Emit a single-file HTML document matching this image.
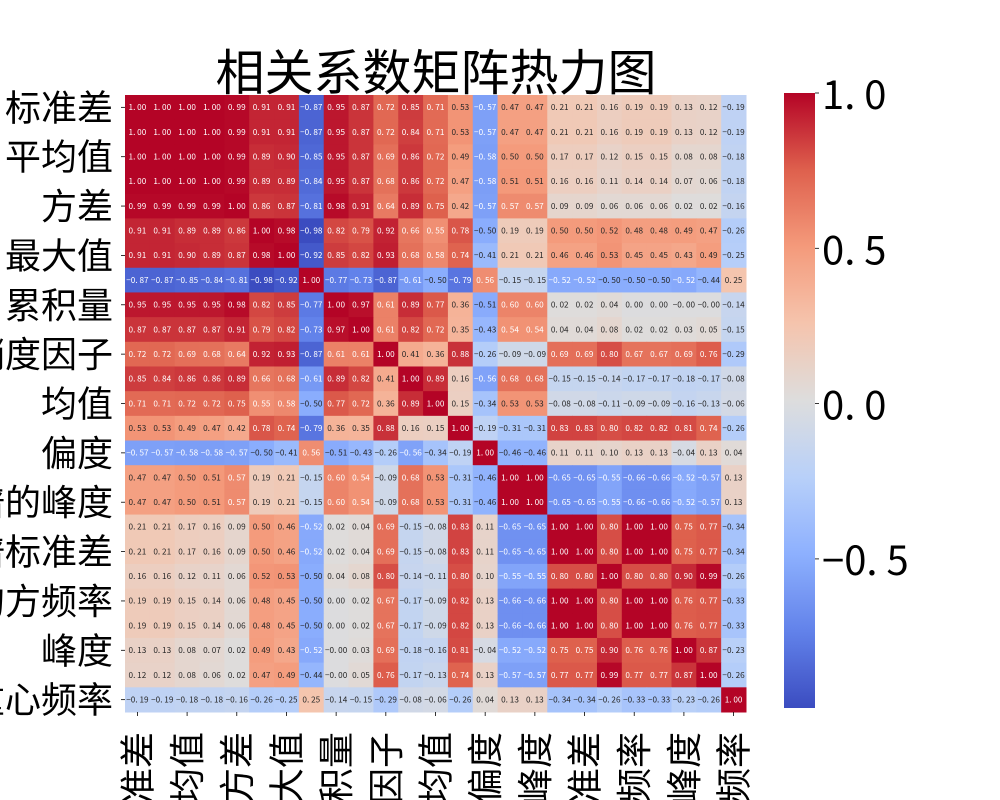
<!DOCTYPE html>
<html><head><meta charset="utf-8">
<style>
html,body{margin:0;padding:0;background:#fff;width:1000px;height:800px;overflow:hidden}
svg{display:block;overflow:hidden}
</style></head>
<body>
<svg id="chart" width="1000" height="800" viewBox="0 0 1000 800" xmlns="http://www.w3.org/2000/svg">
<text x="436" y="90" text-anchor="middle" font-size="49" font-family="'Liberation Sans','Noto Sans CJK SC',sans-serif" fill="#000">相关系数矩阵热力图</text>
<g id="cells"></g>
<g id="ylab"></g>
<g id="xlab"></g>
<g id="cbar"></g>
</svg>
<script>
const labels = ["标准差","均方根","平均值","绝对平均值","方差","峰峰值","最大值","最小值","累积量","能量","峭度因子","波形因子","均值","脉冲因子","偏度","裕度因子","频谱的峰度","频率标准差","频谱标准差","均方根频率","均方频率","平均频率","峰度","频谱偏度","重心频率"];
// upper triangle rows (row i starts at column i)
const upperRows = [
[1.00,1.00,1.00,1.00,0.99,0.91,0.91,-0.87,0.95,0.87,0.72,0.85,0.71,0.53,-0.57,0.47,0.47,0.21,0.21,0.16,0.19,0.19,0.13,0.12,-0.19],
[1.00,1.00,1.00,0.99,0.91,0.91,-0.87,0.95,0.87,0.72,0.84,0.71,0.53,-0.57,0.47,0.47,0.21,0.21,0.16,0.19,0.19,0.13,0.12,-0.19],
[1.00,1.00,0.99,0.89,0.90,-0.85,0.95,0.87,0.69,0.86,0.72,0.49,-0.58,0.50,0.50,0.17,0.17,0.12,0.15,0.15,0.08,0.08,-0.18],
[1.00,0.99,0.89,0.89,-0.84,0.95,0.87,0.68,0.86,0.72,0.47,-0.58,0.51,0.51,0.16,0.16,0.11,0.14,0.14,0.07,0.06,-0.18],
[1.00,0.86,0.87,-0.81,0.98,0.91,0.64,0.89,0.75,0.42,-0.57,0.57,0.57,0.09,0.09,0.06,0.06,0.06,0.02,0.02,-0.16],
[1.00,0.98,-0.98,0.82,0.79,0.92,0.66,0.55,0.78,-0.50,0.19,0.19,0.50,0.50,0.52,0.48,0.48,0.49,0.47,-0.26],
[1.00,-0.92,0.85,0.82,0.93,0.68,0.58,0.74,-0.41,0.21,0.21,0.46,0.46,0.53,0.45,0.45,0.43,0.49,-0.25],
[1.00,-0.77,-0.73,-0.87,-0.61,-0.50,-0.79,0.56,-0.15,-0.15,-0.52,-0.52,-0.50,-0.50,-0.50,-0.52,-0.44,0.25],
[1.00,0.97,0.61,0.89,0.77,0.36,-0.51,0.60,0.60,0.02,0.02,0.04,0.00,0.00,-0.00,-0.00,-0.14],
[1.00,0.61,0.82,0.72,0.35,-0.43,0.54,0.54,0.04,0.04,0.08,0.02,0.02,0.03,0.05,-0.15],
[1.00,0.41,0.36,0.88,-0.26,-0.09,-0.09,0.69,0.69,0.80,0.67,0.67,0.69,0.76,-0.29],
[1.00,0.89,0.16,-0.56,0.68,0.68,-0.15,-0.15,-0.14,-0.17,-0.17,-0.18,-0.17,-0.08],
[1.00,0.15,-0.34,0.53,0.53,-0.08,-0.08,-0.11,-0.09,-0.09,-0.16,-0.13,-0.06],
[1.00,-0.19,-0.31,-0.31,0.83,0.83,0.80,0.82,0.82,0.81,0.74,-0.26],
[1.00,-0.46,-0.46,0.11,0.11,0.10,0.13,0.13,-0.04,0.13,0.04],
[1.00,1.00,-0.65,-0.65,-0.55,-0.66,-0.66,-0.52,-0.57,0.13],
[1.00,-0.65,-0.65,-0.55,-0.66,-0.66,-0.52,-0.57,0.13],
[1.00,1.00,0.80,1.00,1.00,0.75,0.77,-0.34],
[1.00,0.80,1.00,1.00,0.75,0.77,-0.34],
[1.00,0.80,0.80,0.90,0.99,-0.26],
[1.00,1.00,0.76,0.77,-0.33],
[1.00,0.76,0.77,-0.33],
[1.00,0.87,-0.23],
[1.00,-0.26],
[1.00]
];
const cbarTicks = [1.0, 0.5, 0.0, -0.5];
const cbarTickLabels = ["1.0","0.5","0.0","\u22120.5"];

const NS = "http://www.w3.org/2000/svg";
const n = labels.length;
const X0 = 125, X1 = 746, Y0 = 95, Y1 = 712;
const cw = (X1 - X0) / n, ch = (Y1 - Y0) / n;
const vmin = -0.98, vmax = 1.0;
const xPos = i => X0 + i * cw;
const yPos = i => Y0 + i * ch;

const M = [];
for (let i = 0; i < n; i++) { M.push(new Array(n)); }
for (let i = 0; i < n; i++) for (let k = 0; k < upperRows[i].length; k++) {
  const j = i + k; M[i][j] = upperRows[i][k]; M[j][i] = upperRows[i][k];
}
const stops = [[0,[59,76,192]],[0.125,[98,130,234]],[0.25,[141,176,254]],[0.375,[184,208,249]],[0.5,[221,221,221]],[0.625,[245,196,173]],[0.75,[244,154,123]],[0.875,[222,96,77]],[1,[180,4,38]]];
function cmap(t){
  t = Math.max(0, Math.min(1, t));
  for (let s = 0; s < stops.length - 1; s++) {
    const [a, ca] = stops[s], [b, cb] = stops[s+1];
    if (t <= b) { const f = (t - a) / (b - a); return ca.map((c, k) => Math.round(c + (cb[k] - c) * f)); }
  }
  return stops[stops.length-1][1];
}
const norm = v => (v - vmin) / (vmax - vmin);
function lum(c){ const l = c.map(x => { x/=255; return x <= 0.03928 ? x/12.92 : Math.pow((x+0.055)/1.055, 2.4); }); return 0.2126*l[0]+0.7152*l[1]+0.0722*l[2]; }
function fmt(v){ let s = Math.abs(v).toFixed(2); if (v < 0 || Object.is(v,-0)) s = "\u2212" + s; return s; }

const cells = document.getElementById("cells");
for (let i = 0; i < n; i++) for (let j = 0; j < n; j++) {
  const v = M[i][j], c = cmap(norm(v));
  const r = document.createElementNS(NS, "rect");
  
  
  r.setAttribute("x", xPos(j)); r.setAttribute("y", yPos(i));
  r.setAttribute("width", cw + 0.5); r.setAttribute("height", ch + 0.5);
  r.setAttribute("fill", `rgb(${c[0]},${c[1]},${c[2]})`);
  cells.appendChild(r);
  const t = document.createElementNS(NS, "text");
  
  
  t.setAttribute("x", xPos(j) + cw/2); t.setAttribute("y", yPos(i) + ch/2 + 2.8);
  t.setAttribute("text-anchor", "middle"); t.setAttribute("font-size", "8.2");
  t.setAttribute("font-family", "'Noto Sans CJK SC','DejaVu Sans',sans-serif");
  t.setAttribute("fill", lum(c) > 0.408 ? "#262626" : "#ffffff");
  t.textContent = fmt(v).replace(".", ". ");
  cells.appendChild(t);
}
const ylab = document.getElementById("ylab"), xlab = document.getElementById("xlab");
for (let i = 0; i < n; i += 2) {
  const yc = yPos(i) + ch/2;
  const tk = document.createElementNS(NS, "line");
  
  
  tk.setAttribute("x1", X0 - 4); tk.setAttribute("x2", X0); tk.setAttribute("y1", yc); tk.setAttribute("y2", yc);
  tk.setAttribute("stroke", "#000"); tk.setAttribute("stroke-width", "0.8");
  ylab.appendChild(tk);
  const t = document.createElementNS(NS, "text");
  
  
  t.setAttribute("x", 113); t.setAttribute("y", yc + 13);
  t.setAttribute("text-anchor", "end"); t.setAttribute("font-size", "36");
  t.setAttribute("font-family", "'Liberation Sans','Noto Sans CJK SC',sans-serif");
  t.textContent = labels[i];
  ylab.appendChild(t);
  const xc = xPos(i) + cw/2;
  const tx = document.createElementNS(NS, "line");
  
  
  tx.setAttribute("x1", xc); tx.setAttribute("x2", xc); tx.setAttribute("y1", Y1); tx.setAttribute("y2", Y1 + 4);
  tx.setAttribute("stroke", "#000"); tx.setAttribute("stroke-width", "0.8");
  xlab.appendChild(tx);
  const u = document.createElementNS(NS, "text");
  
  
  u.setAttribute("transform", `translate(${xc + 13},${Y1 + 20}) rotate(-90)`);
  u.setAttribute("text-anchor", "end"); u.setAttribute("font-size", "36");
  u.setAttribute("font-family", "'Liberation Sans','Noto Sans CJK SC',sans-serif");
  u.textContent = labels[i];
  xlab.appendChild(u);
}
// colorbar
const cbar = document.getElementById("cbar");
const CB0 = 93, CB1 = 708, CBX = 784, CBW = 31;
const cbY = v => CB1 - (v - vmin) / (vmax - vmin) * (CB1 - CB0);
const defs = document.createElementNS(NS, "defs");
const lg = document.createElementNS(NS, "linearGradient");
lg.setAttribute("id", "cg"); lg.setAttribute("x1", "0"); lg.setAttribute("y1", "1"); lg.setAttribute("x2", "0"); lg.setAttribute("y2", "0");
for (let k = 0; k <= 32; k++) {
  const s = document.createElementNS(NS, "stop"), c = cmap(k/32);
  s.setAttribute("offset", k/32); s.setAttribute("stop-color", `rgb(${c[0]},${c[1]},${c[2]})`);
  lg.appendChild(s);
}
defs.appendChild(lg); cbar.appendChild(defs);
const cr = document.createElementNS(NS, "rect");


cr.setAttribute("x", CBX); cr.setAttribute("y", CB0); cr.setAttribute("width", CBW); cr.setAttribute("height", CB1 - CB0);
cr.setAttribute("fill", "url(#cg)");
cbar.appendChild(cr);
cbarTicks.forEach((v, k) => {
  const y = cbY(v);
  const l = document.createElementNS(NS, "line");
  
  
  l.setAttribute("x1", CBX + CBW); l.setAttribute("x2", CBX + CBW + 4); l.setAttribute("y1", y); l.setAttribute("y2", y);
  l.setAttribute("stroke", "#000"); l.setAttribute("stroke-width", "0.8");
  cbar.appendChild(l);
  const t = document.createElementNS(NS, "text");
  
  
  t.setAttribute("x", CBX + CBW + 7); t.setAttribute("y", y + 16);
  t.setAttribute("font-size", "40");
  t.setAttribute("font-family", "'Noto Sans CJK SC','DejaVu Sans',sans-serif");
  t.textContent = cbarTickLabels[k].replace(".", ". ");
  cbar.appendChild(t);
});
</script>
</body></html>
